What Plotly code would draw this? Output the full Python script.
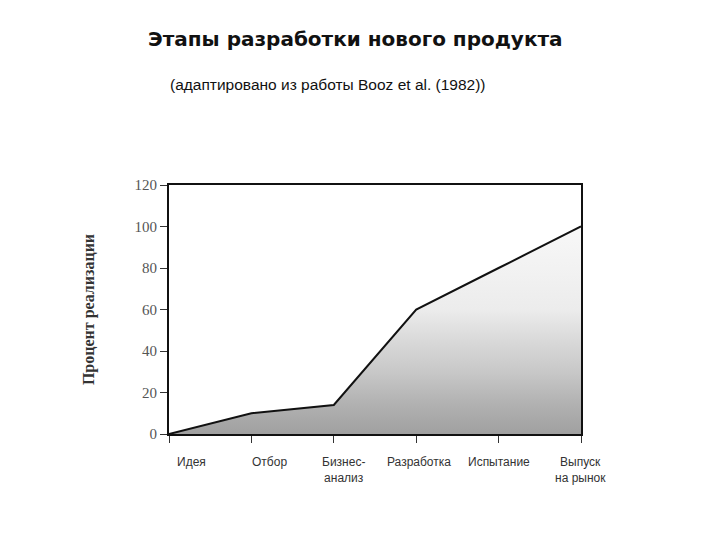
import plotly.graph_objects as go

stages = ["Идея", "Отбор", "Бизнес-<br>анализ", "Разработка", "Испытание", "Выпуск<br>на рынок"]
stage_pos = [0, 1, 2, 3, 4, 5]
completion = [0, 10, 14, 60, 80, 100]
y_ticks = [0, 20, 40, 60, 80, 100, 120]

# small horizontal nudges of the stage labels, as drawn in the original figure
label_nudge = [22, 18, 10, 3, 0, -1]

fig = go.Figure()
fig.add_trace(go.Scatter(
    x=stage_pos, y=completion, mode="lines",
    line=dict(color="#111111", width=2),
    fill="tozeroy",
    fillgradient=dict(type="vertical",
                      colorscale=[[0, "#a0a0a0"], [0.15, "#b2b2b2"], [0.3, "#c8c8c8"],
                                  [0.45, "#d9d9d9"], [0.6, "#ececec"], [1, "#f8f8f8"]]),
    showlegend=False, hoverinfo="skip",
))

annotations = [
    dict(text="<b>Этапы разработки нового продукта</b>", xref="paper", yref="paper",
         x=0.453, y=1.0, yshift=146, xanchor="center", yanchor="middle", showarrow=False,
         font=dict(family="DejaVu Sans", size=20, color="#111")),
    dict(text="(адаптировано из работы Booz et al. (1982))", xref="paper", yref="paper",
         x=0.386, y=1.0, yshift=101, xanchor="center", yanchor="middle", showarrow=False,
         font=dict(family="Liberation Sans", size=15.5, color="#111")),
]
for pos, lab, dx in zip(stage_pos, stages, label_nudge):
    annotations.append(dict(
        text=lab, x=pos, y=0, xref="x", yref="y", xanchor="center", yanchor="top",
        xshift=dx, yshift=-19, showarrow=False, align="center",
        font=dict(family="Liberation Sans Narrow, Liberation Sans", size=12, color="#333"),
    ))

fig.update_layout(
    width=720, height=540,
    margin=dict(l=161, r=147, t=177, b=114),
    paper_bgcolor="white", plot_bgcolor="white",
    font=dict(family="Liberation Serif", color="#222222"),
    xaxis=dict(
        range=[0, 5], tickmode="array", tickvals=stage_pos, ticktext=[""] * len(stages),
        ticks="outside", ticklen=7, tickcolor="#333", tickwidth=1,
        showline=True, linecolor="#111", linewidth=2, mirror=True,
        showgrid=False, zeroline=False,
    ),
    yaxis=dict(
        range=[0, 120], tickmode="array", tickvals=y_ticks,
        ticks="outside", ticklen=7, tickcolor="#333",
        showline=True, linecolor="#111", linewidth=2, mirror=True,
        showgrid=False, zeroline=False,
        tickfont=dict(family="Liberation Serif", size=15, color="#555"),
        title=dict(text="<b>Процент реализации</b>", standoff=36,
                   font=dict(family="Liberation Serif", size=16, color="#333")),
    ),
    annotations=annotations,
)

fig.write_html("out.html")
